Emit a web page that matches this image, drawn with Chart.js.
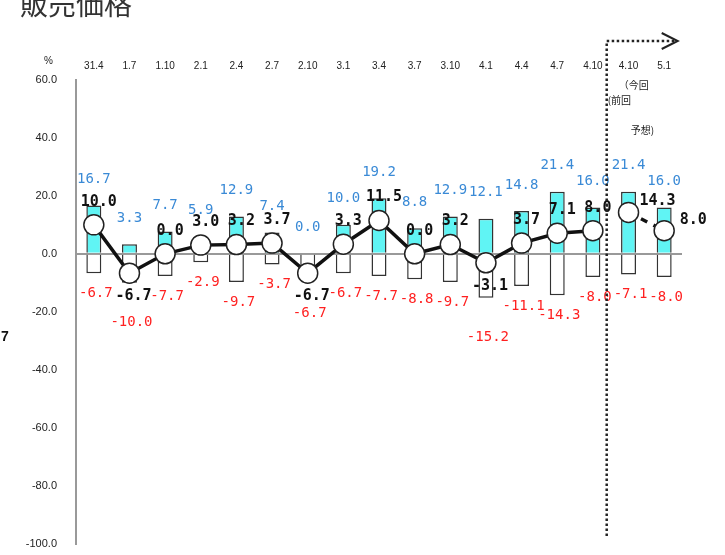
<!DOCTYPE html>
<html>
<head>
<meta charset="utf-8">
<script src="https://cdn.jsdelivr.net/npm/chart.js@4.4.1/dist/chart.umd.min.js"></script>
<style>
  html, body { margin: 0; padding: 0; background: #fff; overflow: hidden; }
  canvas { display: block; }
</style>
</head>
<body>
<canvas id="chart" width="725" height="555"></canvas>
<script>
// 調査時期
const categories = ['31.4', '1.7', '1.10', '2.1', '2.4', '2.7', '2.10', '3.1', '3.4', '3.7', '3.10', '4.1', '4.4', '4.7', '4.10', '4.10', '5.1'];
// 上昇の割合
const upValues = [16.7, 3.3, 7.7, 5.9, 12.9, 7.4, 0.0, 10.0, 19.2, 8.8, 12.9, 12.1, 14.8, 21.4, 16.0, 21.4, 16.0];
// 低下の割合
const downValues = [-6.7, -10.0, -7.7, -2.9, -9.7, -3.7, -6.7, -6.7, -7.7, -8.8, -9.7, -15.2, -11.1, -14.3, -8.0, -7.1, -8.0];
// DI
const diValues = [10.0, -6.7, 0.0, 3.0, 3.2, 3.7, -6.7, 3.3, 11.5, 0.0, 3.2, -3.1, 3.7, 7.1, 8.0, 14.3, 8.0];
// ここから予想
const forecastFrom = 15;

const diActual = diValues.map((v, i) => i < forecastFrom ? v : null);
const diForecast = diValues.map((v, i) => i >= forecastFrom ? v : null);

const monoFont = '"DejaVu Sans Mono", monospace';

// 数値ラベル・注記などを描くプラグイン
const labelPlugin = {
  id: 'labels',
  // 棒を描いた後、折れ線の前にラベルを描く（datasets は index 3,2,1,0 の順に描画される）
  afterDatasetDraw(chart, args) {
    if (args.index !== 2) return;
    const ctx = chart.ctx;
    const x = chart.scales.x;
    const y = chart.scales.y;
    ctx.save();
    ctx.textAlign = 'center';
    ctx.textBaseline = 'middle';

    // 上昇（青）
    ctx.font = '14px ' + monoFont;
    ctx.fillStyle = '#3a8ad6';
    upValues.forEach((v, i) => {
      ctx.fillText(v.toFixed(1), x.getPixelForValue(i), y.getPixelForValue(v) - 26);
    });

    // 低下（赤）
    ctx.fillStyle = '#ff2020';
    downValues.forEach((v, i) => {
      const extra = diValues[i] < 0 ? 40 : 20;
      ctx.fillText(v.toFixed(1), x.getPixelForValue(i) + 2, y.getPixelForValue(v) + extra);
    });

    // DI（黒）
    ctx.font = 'bold 15px ' + monoFont;
    ctx.fillStyle = '#111';
    diValues.forEach((v, i) => {
      const px = x.getPixelForValue(i);
      const py = y.getPixelForValue(v);
      if (v < 0) {
        ctx.fillText(v.toFixed(1), px + 4, py + 23);
      } else if (i >= forecastFrom) {
        ctx.fillText(v.toFixed(1), px + 29, py - 11);
      } else {
        ctx.fillText(v.toFixed(1), px + 5, py - 23);
      }
    });
    ctx.restore();
  },
  afterDraw(chart) {
    const ctx = chart.ctx;
    const x = chart.scales.x;
    ctx.save();

    // タイトル
    ctx.fillStyle = '#333';
    ctx.font = '28px "Noto Sans CJK JP"';
    ctx.textBaseline = 'alphabetic';
    ctx.fillText('販売価格', 20, 15);

    ctx.font = 'bold 14px "Liberation Sans"';
    ctx.fillStyle = '#111';
    ctx.fillText('7', 1, 341);

    ctx.font = '10px "Liberation Sans"';
    ctx.fillStyle = '#222';
    ctx.fillText('%', 44, 64);

    // 前回・今回の区切り（点線と矢印）
    const lx = (x.getPixelForValue(forecastFrom - 1) + x.getPixelForValue(forecastFrom)) / 2 - 4;
    ctx.strokeStyle = '#222';
    ctx.lineWidth = 2.5;
    ctx.setLineDash([2.5, 2.5]);
    ctx.beginPath();
    ctx.moveTo(lx, 536);
    ctx.lineTo(lx, 41);
    ctx.lineTo(lx + 68, 41);
    ctx.stroke();
    ctx.setLineDash([]);
    ctx.lineWidth = 2;
    ctx.beginPath();
    ctx.moveTo(lx + 55, 33);
    ctx.lineTo(lx + 71, 41);
    ctx.lineTo(lx + 55, 49);
    ctx.stroke();

    ctx.font = '10px "Noto Sans CJK JP"';
    ctx.fillStyle = '#222';
    ctx.fillText('（今回', lx + 12, 89);
    ctx.fillText('(前回', lx + 1, 104);
    ctx.fillText('予想)', lx + 24, 134);
    ctx.restore();
  }
};

new Chart(document.getElementById('chart'), {
  data: {
    labels: categories,
    datasets: [
      {
        type: 'line',
        data: diActual,
        order: 0,
        borderColor: '#111',
        borderWidth: 3.5,
        pointRadius: 10,
        pointBackgroundColor: '#fff',
        pointBorderColor: '#222',
        pointBorderWidth: 1.5,
        spanGaps: false
      },
      {
        type: 'line',
        data: diForecast,
        order: 0,
        borderColor: '#111',
        borderWidth: 3.5,
        borderDash: [7, 7],
        pointRadius: 10,
        pointBackgroundColor: '#fff',
        pointBorderColor: '#222',
        pointBorderWidth: 1.5
      },
      {
        type: 'bar',
        data: upValues,
        order: 1,
        grouped: false,
        backgroundColor: '#60f4f4',
        borderColor: '#333',
        borderWidth: 1.5,
        borderSkipped: 'bottom',
        categoryPercentage: 1,
        barPercentage: 0.42
      },
      {
        type: 'bar',
        data: downValues,
        order: 1,
        grouped: false,
        backgroundColor: '#fff',
        borderColor: '#333',
        borderWidth: 1.5,
        categoryPercentage: 1,
        barPercentage: 0.42
      }
    ]
  },
  options: {
    responsive: false,
    animation: false,
    layout: { padding: { left: 0, right: 43, top: 0, bottom: 8 } },
    plugins: {
      legend: { display: false },
      tooltip: { enabled: false }
    },
    scales: {
      x: {
        position: 'top',
        grid: { display: false, drawTicks: false },
        border: { display: false },
        ticks: {
          color: '#222',
          font: { family: 'Liberation Sans', size: 10 },
          padding: 8,
          maxRotation: 0,
          autoSkip: false
        },
        afterFit: scale => { scale.height = 80; }
      },
      y: {
        min: -100,
        max: 60,
        grid: {
          drawTicks: false,
          color: c => c.tick && c.tick.value === 0 ? '#999' : 'rgba(0,0,0,0)',
          lineWidth: 2
        },
        border: { color: '#999', width: 2 },
        ticks: {
          stepSize: 20,
          color: '#222',
          font: { family: 'Liberation Sans', size: 11 },
          padding: 19,
          callback: v => v.toFixed(1)
        },
        afterFit: scale => {
          scale.width = 76;
          scale.paddingTop = 0;
          scale.paddingBottom = 0;
        }
      }
    }
  },
  plugins: [labelPlugin]
});
</script>
</body>
</html>
